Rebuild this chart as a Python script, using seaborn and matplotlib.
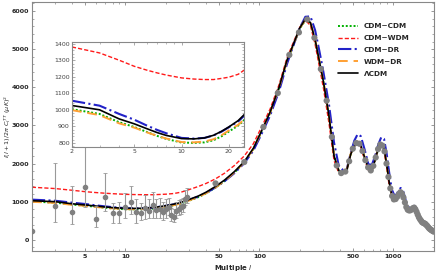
import numpy as np
import matplotlib
matplotlib.use("Agg")
import matplotlib.pyplot as plt
from matplotlib.ticker import MultipleLocator, LogLocator, NullFormatter
import seaborn as sns

# multipole grid for the model curves
ell = [2, 3, 4, 5, 6, 7, 8, 10, 12, 14, 16, 18, 20, 23, 26, 30, 35, 40, 47, 55,
       65, 77, 90, 105, 120, 140, 160, 180, 200, 220, 240, 260, 280, 300, 330,
       360, 390, 420, 450, 480, 510, 540, 570, 610, 650, 690, 730, 770, 810,
       850, 890, 930, 970, 1010, 1050, 1090, 1130, 1170, 1210, 1250, 1290,
       1330, 1380, 1430, 1480, 1540, 1600, 1660, 1720, 1790, 1860, 1930, 2000]

lcdm = [1026, 1000, 945, 915, 886, 862, 845, 826, 824, 830, 846, 870, 896, 935,
        985, 1060, 1150, 1250, 1400, 1570, 1790, 2050, 2400, 2900, 3350, 4000,
        4700, 5150, 5560, 5790, 5700, 5250, 4680, 4150, 3250, 2200, 1820, 1750,
        1850, 2250, 2450, 2570, 2480, 2150, 1880, 1810, 2100, 2400, 2530, 2400,
        1980, 1500, 1180, 1060, 1080, 1180, 1260, 1200, 1020, 850, 770, 760,
        820, 850, 760, 600, 500, 440, 430, 360, 290, 250, 215]

cdm_cdm = [1004, 975, 925, 896, 866, 842, 824, 802, 800, 803, 816, 840, 868, 905,
           952, 1030, 1120, 1220, 1370, 1545, 1765, 2030, 2380, 2880, 3330, 3980,
           4680, 5130, 5540, 5760, 5680, 5230, 4660, 4130, 3240, 2200, 1810, 1740,
           1840, 2240, 2440, 2560, 2470, 2140, 1870, 1800, 2090, 2390, 2520, 2390,
           1970, 1490, 1170, 1050, 1070, 1170, 1250, 1190, 1010, 845, 765, 755,
           815, 845, 755, 595, 495, 435, 425, 355, 285, 245, 210]

cdm_wdm = [1380, 1344, 1300, 1263, 1240, 1223, 1210, 1193, 1186, 1183, 1183, 1190,
           1197, 1215, 1250, 1320, 1400, 1480, 1600, 1750, 1950, 2200, 2520, 3000,
           3430, 4070, 4760, 5200, 5580, 5760, 5620, 5130, 4540, 3980, 3060, 2080,
           1760, 1730, 1880, 2270, 2450, 2550, 2430, 2080, 1830, 1800, 2110, 2400,
           2500, 2330, 1880, 1410, 1130, 1040, 1080, 1180, 1240, 1160, 970, 820,
           760, 760, 820, 835, 730, 580, 485, 430, 415, 345, 280, 240, 205]

cdm_dr = [1055, 1025, 975, 940, 905, 878, 858, 830, 826, 830, 845, 868, 894, 930,
          978, 1050, 1135, 1230, 1375, 1540, 1750, 2010, 2340, 2820, 3260, 3900,
          4600, 5120, 5560, 5850, 5860, 5500, 4950, 4400, 3550, 2550, 1950, 1830,
          1880, 2280, 2600, 2770, 2720, 2360, 1980, 1970, 2200, 2500, 2690, 2650,
          2250, 1750, 1330, 1180, 1180, 1290, 1360, 1320, 1150, 950, 850, 850,
          880, 890, 820, 660, 540, 470, 460, 390, 320, 275, 245]

wdm_dr = [998, 968, 918, 892, 864, 842, 826, 805, 803, 808, 822, 846, 875, 910,
          955, 1035, 1125, 1225, 1375, 1550, 1770, 2035, 2385, 2885, 3335, 3985,
          4690, 5140, 5550, 5780, 5700, 5260, 4690, 4160, 3260, 2220, 1830, 1760,
          1860, 2260, 2460, 2580, 2490, 2160, 1890, 1820, 2110, 2410, 2540, 2410,
          1990, 1510, 1190, 1070, 1090, 1190, 1270, 1210, 1030, 860, 780, 770,
          830, 860, 770, 610, 505, 445, 435, 365, 295, 255, 220]

# low-l data with asymmetric error bars
low_l = [2, 3, 4, 5, 6, 7, 8, 9, 10, 11, 12, 13, 14, 15, 16, 17, 18, 19, 20,
         21, 22, 23, 24, 25, 26, 27, 28, 29]
low_d = [225, 888, 725, 1390, 540, 1114, 714, 696, 870, 1000, 740, 714, 830, 760,
         914, 780, 800, 720, 800, 850, 640, 600, 760, 820, 860, 900, 1080, 1130]
low_lo = [0, 430, 310, 520, 210, 370, 260, 260, 300, 310, 300, 190, 290, 200,
          340, 220, 220, 200, 220, 200, 150, 130, 180, 180, 180, 170, 170, 170]
low_hi = [0, 1130, 690, 1060, 350, 640, 245, 290, 370, 400, 320, 240, 340, 300,
          350, 280, 300, 280, 260, 250, 200, 200, 220, 220, 200, 200, 220, 220]

# binned high-l data
high_l = [47, 77, 107, 137, 167, 197, 227, 257, 287, 317, 347, 377, 407, 437,
          467, 497, 527, 557, 587, 617, 647, 677, 707, 737, 767, 797, 827, 857,
          887, 917, 947, 977, 1007, 1037, 1067, 1097, 1127, 1157, 1187, 1217,
          1247, 1277, 1307, 1337, 1367, 1397, 1427, 1457, 1487, 1517, 1547, 1577,
          1607, 1637, 1667, 1697, 1727, 1757, 1787, 1817, 1847, 1877, 1907, 1937,
          1967, 1997]
high_d = [1480, 2040, 2960, 3850, 4850, 5440, 5780, 5300, 4480, 3650, 2700, 1950,
          1750, 1790, 2060, 2390, 2540, 2520, 2330, 2090, 1900, 1820, 1940, 2160,
          2380, 2500, 2470, 2320, 2000, 1650, 1350, 1150, 1060, 1070, 1130, 1200,
          1250, 1210, 1110, 980, 860, 790, 770, 775, 800, 830, 845, 800, 735, 660,
          590, 540, 500, 460, 445, 430, 420, 390, 365, 330, 300, 280, 260, 245,
          230, 215]

models = [
    ("CDM\u2212CDM", cdm_cdm, "#00b000", (0, (1, 1)), 1.4),
    ("CDM\u2212WDM", cdm_wdm, "#ff1a1a", (0, (3, 1.5)), 1.0),
    ("CDM\u2212DR", cdm_dr, "#2222c8", "-.", 1.5),
    ("WDM\u2212DR", wdm_dr, "#ffa033", (0, (5, 3)), 1.4),
    ("\u039bCDM", lcdm, "black", "-", 1.2),
]

sns.set_style("ticks")
plt.rcParams['font.family'] = ['DejaVu Sans']
plt.rcParams['mathtext.fontset'] = 'dejavusans'

fig = plt.figure(figsize=(4.36, 2.73), dpi=100)
ax = fig.add_axes([0.073, 0.081, 0.922, 0.912])
ax.set_xscale("log")

for name, vals, col, ls, lw in models:
    sns.lineplot(x=ell, y=vals, ax=ax, color=col, linestyle=ls, lw=lw, label=name)

ax.errorbar(low_l, low_d, yerr=[low_lo, low_hi], fmt="o", color="#808080",
            ecolor="#999999", elinewidth=0.8, capsize=1.5, capthick=0.6,
            markersize=3, zorder=5)
sns.scatterplot(x=high_l, y=high_d, ax=ax, color="#808080", s=20,
                edgecolor="none", zorder=5)

ax.set_xlim(2, 2000)
ax.set_ylim(-290, 6240)
ax.set_xticks([5, 10, 50, 100, 500, 1000], ["5", "10", "50", "100", "500", "1000"])
ax.xaxis.set_minor_locator(LogLocator(base=10, subs=np.arange(2, 10)))
ax.xaxis.set_minor_formatter(NullFormatter())
ax.yaxis.set_major_locator(MultipleLocator(1000))
ax.yaxis.set_minor_locator(MultipleLocator(200))
ax.tick_params(which="both", direction="in", top=True, right=True, color="#888888",
               labelsize=4.6, pad=2)
ax.tick_params(which="major", length=2.5, width=0.6)
ax.tick_params(which="minor", length=1.5, width=0.5)
for lab in ax.get_xticklabels() + ax.get_yticklabels():
    lab.set_fontweight("bold")
for sp in ax.spines.values():
    sp.set_color("#888888")
    sp.set_linewidth(0.8)

ax.set_xlabel("Multiple $l$", fontsize=5, fontweight="bold", labelpad=3)
ax.set_ylabel(r"$l(l+1)/2\pi\ C_l^{\,TT}\ (\mu K)^2$", fontsize=4.6)
ax.yaxis.set_label_coords(-0.047, 0.5)

handles, labels = ax.get_legend_handles_labels()
ax.legend(handles[:5], labels[:5], loc="upper left", bbox_to_anchor=(0.775, 0.915),
          bbox_transform=fig.transFigure, frameon=False, borderpad=0,
          borderaxespad=0, handlelength=2.8, handletextpad=0.8, labelspacing=0.8,
          prop={"weight": "bold", "size": 5.2})

# inset zoom on low multipoles
axin = fig.add_axes([0.165, 0.4615, 0.3945, 0.3846])
axin.set_xscale("log")
for name, vals, col, ls, lw in models:
    sns.lineplot(x=ell, y=vals, ax=axin, color=col, linestyle=ls, lw=lw, legend=False)
axin.set_xlim(2, 25)
axin.set_ylim(775, 1410)
axin.set_xticks([2, 5, 10, 20], ["2", "5", "10", "20"])
axin.xaxis.set_minor_locator(LogLocator(base=10, subs=np.arange(2, 10)))
axin.xaxis.set_minor_formatter(NullFormatter())
axin.yaxis.set_major_locator(MultipleLocator(100))
axin.yaxis.set_minor_locator(MultipleLocator(20))
axin.tick_params(which="both", direction="in", top=True, right=True, color="#888888",
                 labelsize=4.5, labelcolor="#444444", pad=1.5)
axin.tick_params(which="major", length=2, width=0.5)
axin.tick_params(which="minor", length=1.2, width=0.4)
for sp in axin.spines.values():
    sp.set_color("#888888")
    sp.set_linewidth(0.8)

fig.savefig("out.png", dpi=100)
